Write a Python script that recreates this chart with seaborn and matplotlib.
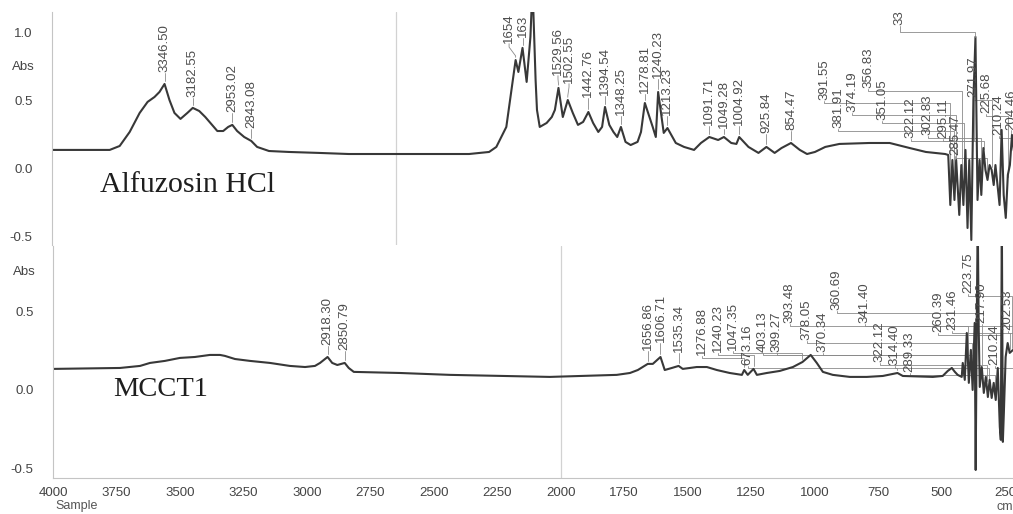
import numpy as np
import matplotlib
matplotlib.use("Agg")
import matplotlib.pyplot as plt
import seaborn as sns
from matplotlib.ticker import FixedLocator, MultipleLocator, FormatStrFormatter

# ---------------- spectra (wavenumber in cm-1, absorbance) ----------------
alf_wn = [4000, 3665, 3607, 3549, 3491, 3445, 3405, 3376, 3346.50, 3318, 3289, 3254,
          3214, 3182.55, 3145, 3110, 3075, 3040, 3006, 2977, 2953.02, 2925, 2884,
          2843.08, 2809, 2740, 2624, 2451, 2277, 2000, 1789, 1731, 1710, 1681, 1666,
          1654, 1646, 1634, 1622, 1611, 1605, 1596, 1592, 1584, 1564, 1549, 1540,
          1529.56, 1517, 1502.55, 1488, 1473, 1458, 1442.76, 1429, 1414, 1403,
          1394.54, 1382, 1370, 1359, 1348.25, 1335, 1320, 1300, 1290, 1278.81, 1256,
          1247, 1240.23, 1224, 1213.23, 1189, 1165, 1136, 1116, 1091.71, 1066,
          1049.28, 1028, 1013, 1004.92, 978, 949, 925.84, 902, 882, 854.47, 829, 808,
          785, 755, 714, 627, 568, 510, 463, 407, 398, 392, 386, 380, 375, 366, 360,
          354, 348, 342, 337, 331, 325, 319, 313, 307, 302, 296, 290, 284, 278, 272,
          266, 261, 255, 249, 243, 237, 231, 225, 219, 213, 208, 199]
alf_abs = [0.140, 0.140, 0.169, 0.272, 0.412, 0.493, 0.529, 0.566, 0.625, 0.507, 0.412, 0.368,
           0.412, 0.449, 0.426, 0.382, 0.331, 0.279, 0.279, 0.309, 0.324, 0.279, 0.235,
           0.206, 0.162, 0.132, 0.125, 0.118, 0.110, 0.110, 0.110, 0.125, 0.162, 0.309, 0.581,
           0.801, 0.713, 0.890, 0.640, 0.971, 1.350, 0.654, 0.434, 0.309, 0.338, 0.382, 0.434,
           0.596, 0.382, 0.507, 0.412, 0.324, 0.346, 0.419, 0.338, 0.272, 0.309,
           0.456, 0.324, 0.272, 0.235, 0.309, 0.199, 0.176, 0.199, 0.272, 0.485, 0.309,
           0.235, 0.566, 0.265, 0.301, 0.191, 0.162, 0.140, 0.191, 0.235, 0.213,
           0.235, 0.191, 0.184, 0.235, 0.162, 0.118, 0.162, 0.118, 0.154, 0.191, 0.140, 0.110,
           0.125, 0.162, 0.184, 0.191, 0.191, 0.154, 0.125, 0.110, 0.103, -0.265, 0.066, -0.228,
           0.066, -0.338, 0.029, -0.265, 0.140, -0.434, 0.066, -0.522, 0.507, 0.971, -0.228,
           0.066, -0.191, 0.154, -0.007, -0.081, 0.029, -0.007, -0.118, 0.029, -0.118, -0.265,
           0.287, -0.191, -0.360, -0.044, 0.029, 0.250, 0.140, 0.066]

mcc_wn = [4000, 3736, 3657, 3618, 3559, 3500, 3441, 3382, 3342, 3323, 3283, 3224, 3145,
          3067, 3007, 2968, 2948, 2918.30, 2900, 2880, 2850.79, 2835, 2815, 2633, 2436,
          2043, 1779, 1727, 1696, 1656.86, 1637, 1606.71, 1590, 1562, 1535.34, 1519,
          1491, 1464, 1424, 1385, 1334, 1286, 1276.88, 1263, 1240.23, 1227, 1188, 1137,
          1085, 1047.35, 1015, 991, 967, 928, 861, 794, 731, 673.16, 652, 534, 495, 475,
          459, 447, 436, 420, 416, 408, 400, 392, 384, 377, 369, 365, 361, 357, 353, 349,
          341, 333, 325, 317, 310, 302, 294, 286, 278, 270, 266, 262, 258, 254, 247, 239,
          231, 218]
mcc_abs = [0.134, 0.140, 0.153, 0.172, 0.185, 0.204, 0.210, 0.223, 0.223, 0.217, 0.197, 0.185, 0.172,
           0.153, 0.146, 0.153, 0.172, 0.210, 0.172, 0.159, 0.172, 0.140, 0.115, 0.108, 0.096,
           0.083, 0.096, 0.108, 0.127, 0.166, 0.166, 0.210, 0.127, 0.140, 0.153, 0.134,
           0.140, 0.146, 0.146, 0.127, 0.108, 0.096, 0.127, 0.096, 0.134, 0.096, 0.108, 0.121,
           0.146, 0.178, 0.223, 0.172, 0.115, 0.096, 0.083, 0.083, 0.089, 0.108, 0.089, 0.083, 0.089, 0.121,
           0.140, 0.115, 0.096, 0.083, 0.172, 0.064, 0.363, 0.045, 0.255, 0.000, 0.427, -0.510, 0.382, 1.100, 0.382, 0.019,
           0.146, -0.019, 0.083, -0.045, 0.064, -0.051, 0.045, -0.064, 0.140, -0.236, -0.318, 1.100, -0.331, -0.146, 0.210, 0.299,
           0.236, 0.255]

# ---------------- peak annotations ----------------
alf_labels = ["3346.50", "3182.55", "2953.02", "2843.08", "1654", "1529.56", "1502.55",
              "1442.76", "1394.54", "1348.25", "1278.81", "1240.23", "1213.23", "1091.71",
              "1049.28", "1004.92", "925.84", "854.47", "391.55", "381.91", "374.19",
              "356.83", "351.05", "322.12", "302.83", "295.11", "285.47", "271.97",
              "225.68", "210.24", "204.46"]
mcc_labels = ["2918.30", "2850.79", "1656.86", "1606.71", "1535.34", "1276.88", "1240.23",
              "1047.35", "673.16", "403.13", "399.27", "393.48", "378.05", "370.34", "360.69",
              "341.40", "322.12", "314.40", "289.33", "260.39", "231.46", "223.75", "217.90",
              "210.24", "202.53"]

# where each label text sits (x in cm-1, y = foot of the text in Abs)
alf_label_x = [3346.50, 3182.55, 2953.02, 2843.08, 1673, 1531, 1499, 1442.76, 1394.54,
               1348.25, 1278.81, 1240.23, 1213.23, 1091.71, 1049.28, 1004.92, 925.84, 854.47,
               758, 717, 676, 630, 589, 507, 457, 413, 378, 325, 287, 252, 214]
alf_label_y = [0.713, 0.529, 0.419, 0.301, 0.926, 0.691, 0.632, 0.529, 0.544, 0.397, 0.559,
               0.669, 0.397, 0.324, 0.301, 0.324, 0.265, 0.287, 0.507, 0.301, 0.419, 0.596,
               0.360, 0.228, 0.250, 0.228, 0.103, 0.529, 0.412, 0.250, 0.287]
mcc_label_x = [2918.30, 2850.79, 1656.86, 1606.71, 1535.34, 1444, 1381, 1322, 1263, 1204,
               1148, 1097, 1030, 967, 912, 802, 743, 684, 625, 514, 459, 396, 341, 290, 239]
mcc_label_y = [0.287, 0.255, 0.255, 0.306, 0.242, 0.223, 0.242, 0.255, 0.159, 0.242, 0.242,
               0.427, 0.318, 0.242, 0.510, 0.427, 0.178, 0.159, 0.115, 0.369, 0.382, 0.618,
               0.427, 0.159, 0.382]

# ---------------- style ----------------
sns.set_style("white")
plt.rcParams["font.family"] = ["Liberation Sans", "DejaVu Sans"]

LINE = "#383838"
TXT = "#4d4d4d"
LEAD = "#8a8a8a"
SPINE = "#c4c4c4"
W, H = 1013, 514

fig = plt.figure(figsize=(W / 100, H / 100), dpi=100)


def frac(left, top, right, bottom):
    return [left / W, 1 - bottom / H, (right - left) / W, (bottom - top) / H]


ax_top = fig.add_axes(frac(52, 12, 1013, 245))
ax_bot = fig.add_axes(frac(53, 246, 1013, 478))


# the upper trace is displayed with the range below 2000 cm-1 expanded twofold
def _fwd(x):
    x = np.asarray(x, dtype=float)
    return np.where(x >= 2000, x, 2 * x - 2000)


def _inv(y):
    y = np.asarray(y, dtype=float)
    return np.where(y >= 2000, y, (y + 2000) / 2)


ax_top.set_xscale("function", functions=(_fwd, _inv))
ax_top.set_xlim(4000, 210)
ax_top.set_ylim(-0.559, 1.154)
ax_bot.set_xlim(4000, 218)
ax_bot.set_ylim(-0.561, 0.917)

sns.lineplot(x=alf_wn, y=alf_abs, ax=ax_top, sort=False, estimator=None,
             color=LINE, linewidth=1.5)
sns.lineplot(x=mcc_wn, y=mcc_abs, ax=ax_bot, sort=False, estimator=None,
             color=LINE, linewidth=1.5)

for ax in (ax_top, ax_bot):
    ax.axvline(2000, color="#d2d2d2", linewidth=0.9, zorder=0)
    for side in ("top", "right"):
        ax.spines[side].set_visible(False)
    ax.spines["left"].set_color(SPINE)
    ax.spines["left"].set_linewidth(0.8)
    ax.yaxis.set_major_formatter(FormatStrFormatter("%.1f"))
    ax.yaxis.set_minor_locator(MultipleLocator(0.1))
    ax.tick_params(axis="y", which="major", direction="out", length=5, width=0.8,
                   color="#8a8a8a", pad=9, labelsize=9.5, labelcolor="#444444")
    ax.tick_params(axis="y", which="minor", direction="inout", length=4, width=0.6,
                   color=SPINE)
    ax.text(-0.0185, 0.75, "Abs", transform=ax.get_yaxis_transform(), ha="right",
            va="center", fontsize=9.5, color="#444444")
    ax.set_xlabel("")
    ax.set_ylabel("")

ax_top.yaxis.set_major_locator(FixedLocator([-0.5, 0.0, 0.5, 1.0]))
ax_bot.yaxis.set_major_locator(FixedLocator([-0.5, 0.0, 0.5]))

ax_top.spines["bottom"].set_visible(False)
ax_top.tick_params(axis="x", which="both", bottom=False, labelbottom=False)

ax_bot.spines["bottom"].set_color(SPINE)
ax_bot.spines["bottom"].set_linewidth(0.8)
ax_bot.xaxis.set_major_locator(FixedLocator(list(range(4000, 249, -250))))
ax_bot.xaxis.set_major_formatter(FormatStrFormatter("%d"))
ax_bot.xaxis.set_minor_locator(MultipleLocator(50))
ax_bot.tick_params(axis="x", which="major", direction="inout", length=5, width=0.6,
                   color=SPINE, pad=4, labelsize=9.5, labelcolor="#444444")
ax_bot.tick_params(axis="x", which="minor", direction="inout", length=3, width=0.5,
                   color=SPINE)


def annotate_peaks(ax, wn, ab, labels, lx, ly, gap=0.02):
    xs = np.asarray(wn, dtype=float)[::-1]
    ys = np.asarray(ab, dtype=float)[::-1]
    for text, tx, ty in zip(labels, lx, ly):
        value = float(text)
        target = float(np.interp(value, xs, ys))
        ax.text(tx, ty, text, rotation=90, ha="center", va="bottom", fontsize=9.5,
                color=TXT, clip_on=True)
        if abs(tx - value) < 30:
            px = [tx, tx, value, value]
            py = [ty - 0.005, ty - 0.03, target + gap + 0.01, target + gap]
        else:
            elbow = ty - gap
            px = [tx, tx, value, value]
            py = [ty - 0.005, elbow, elbow, target + gap]
        ax.plot(px, py, color=LEAD, linewidth=0.6, zorder=1)


annotate_peaks(ax_top, alf_wn, alf_abs, alf_labels, alf_label_x, alf_label_y)
annotate_peaks(ax_bot, mcc_wn, mcc_abs, mcc_labels, mcc_label_x, mcc_label_y)

# shoulder of the carbonyl band and the strongest far-IR spike, whose numbers run
# past the top of the frame
_top_x = np.asarray(alf_wn, dtype=float)
_top_y = np.asarray(alf_abs, dtype=float)
_band = (_top_x > 1625) & (_top_x < 1645)
_sh = _top_x[_band][np.argmax(_top_y[_band])]
ax_top.text(_sh, 0.971, "163", rotation=90, ha="center", va="bottom", fontsize=9.5,
            color=TXT, clip_on=True)
ax_top.plot([_sh, _sh], [0.966, _top_y[_band].max() + 0.02], color=LEAD, linewidth=0.6)
_far = _top_x < 400
_spk = _top_x[_far][np.argmax(_top_y[_far])]
ax_top.text(539, 1.059, "33", rotation=90, ha="center", va="bottom", fontsize=9.5,
            color=TXT, clip_on=True)
ax_top.plot([539, 539, _spk, _spk], [1.054, 1.007, 1.007, _top_y[_far].max()],
            color=LEAD, linewidth=0.6)

# sample names
ax_top.text(0.05, -0.118, "Alfuzosin HCl", transform=ax_top.get_yaxis_transform(),
            ha="left", va="center", fontsize=21.5, family="Liberation Serif", color="#1e1e1e")
ax_bot.text(0.0625, 0.0, "MCCT1", transform=ax_bot.get_yaxis_transform(),
            ha="left", va="center", fontsize=20.5, family="Liberation Serif", color="#1e1e1e")

fig.text(55 / W, 1 - 506 / H, "Sample", ha="left", va="center", fontsize=9, color="#555555")
fig.text(996 / W, 1 - 507 / H, "cm-1", ha="left", va="center", fontsize=9, color="#555555")

fig.savefig("out.png", dpi=100)
